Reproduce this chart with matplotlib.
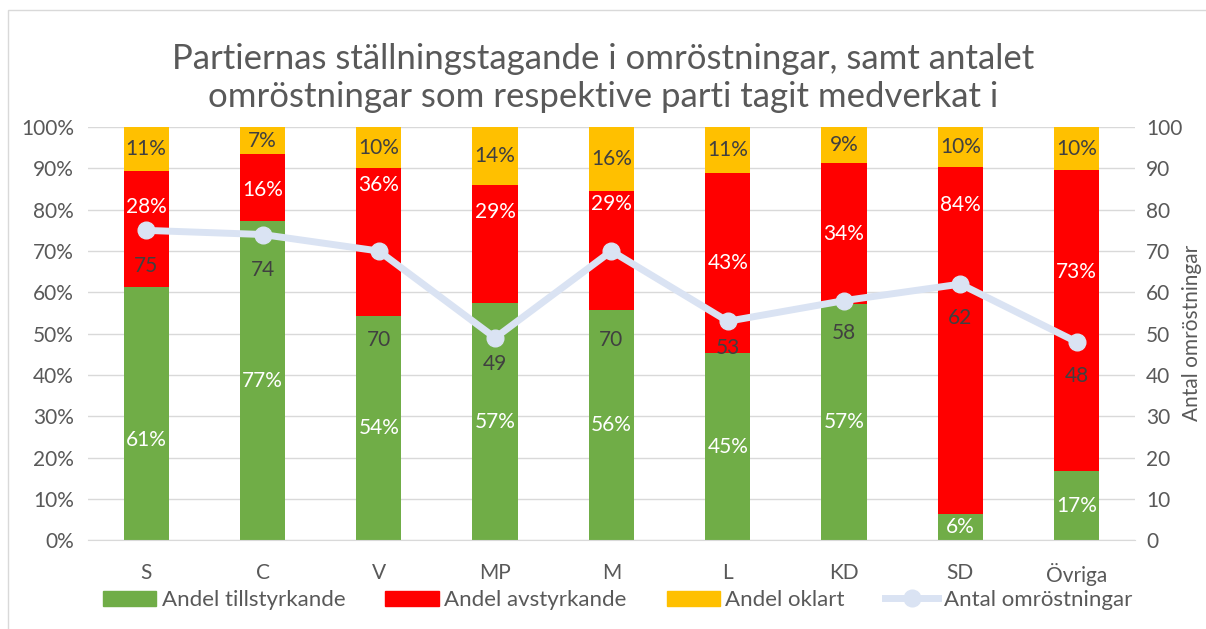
import numpy as np
import matplotlib.pyplot as plt
from matplotlib.lines import Line2D
from matplotlib.patches import Patch, Rectangle
from matplotlib.ticker import PercentFormatter

plt.rcParams['font.family'] = ['Lato', 'DejaVu Sans']

# data
partier = ['S', 'C', 'V', 'MP', 'M', 'L', 'KD', 'SD', 'Övriga']
tillstyrkande = np.array([61.3, 77.2, 54.2, 57.4, 55.7, 45.4, 57.1, 6.4, 16.7])
avstyrkande = np.array([28.0, 16.2, 35.9, 28.6, 28.8, 43.4, 34.3, 83.9, 72.9])
oklart = np.array([10.7, 6.6, 9.9, 14.0, 15.6, 11.2, 8.6, 9.7, 10.4])
antal = np.array([75, 74, 70, 49, 70, 53, 58, 62, 48])

# label placement (moved by hand in the original to dodge the line)
green_lbl_y = [24.2, None, None, None, None, None, None, None, None]
red_lbl_y = [80.6, 84.7, 86.0, 79.4, 81.4, 67.1, 74.1, 81.1, 64.9]
antal_lbl_y = [66.3, 65.4, 48.4, 42.6, 48.4, 46.5, 50.1, 53.8, 39.7]

GREEN = '#70AD47'
RED = '#FF0000'
YELLOW = '#FFC000'
LINE = '#DAE3F3'
DARK = '#404040'
GRID = '#D9D9D9'
TXT = '#595959'
FS = 15

fig = plt.figure(figsize=(12.06, 6.29), dpi=100)
ax = fig.add_axes([0.073, 0.141, 0.868, 0.657])
fig.patches.append(Rectangle((8 / 1206, -0.1), 1.2, (629 - 10) / 629 + 0.1,
                             transform=fig.transFigure, fill=False,
                             edgecolor='#D9D9D9', lw=1))

x = np.arange(len(partier))
w = 0.39
segs = [(tillstyrkande, GREEN, 'white', green_lbl_y),
        (avstyrkande, RED, 'white', red_lbl_y),
        (oklart, YELLOW, DARK, [None] * len(partier))]
bottom = np.zeros(len(partier))
for vals, col, tcol, lbl_y in segs:
    ax.bar(x, vals / 100, w, bottom=bottom / 100, color=col, zorder=2)
    for xi, b, v, ly in zip(x, bottom, vals, lbl_y):
        yy = (b + v / 2) if ly is None else ly
        ax.text(xi, yy / 100, f'{v:.0f}%', ha='center', va='center',
                color=tcol, fontsize=FS, zorder=5)
    bottom += vals

ax.set_xlim(-0.5, len(partier) - 0.5)
ax.set_ylim(0, 1)
ax.set_yticks(np.arange(0, 1.01, 0.1))
ax.yaxis.set_major_formatter(PercentFormatter(1, decimals=0))
ax.grid(axis='y', color=GRID, lw=1, zorder=0)
ax.set_xticks(x)
ax.set_xticklabels(partier)
ax.tick_params(axis='x', length=0, pad=16, labelsize=FS, labelcolor=TXT)
ax.tick_params(axis='y', length=0, pad=10, labelsize=FS, labelcolor=TXT)
for s in ['top', 'right', 'left']:
    ax.spines[s].set_visible(False)
ax.spines['bottom'].set_color(GRID)

ax2 = ax.twinx()
ax2.set_zorder(ax.get_zorder() + 1)
ax2.patch.set_visible(False)
ax2.plot(x, antal, color=LINE, lw=5, marker='o', ms=12, zorder=4)
for xi, n, ly in zip(x, antal, antal_lbl_y):
    ax2.text(xi, ly, str(n), ha='center', va='center', color=DARK, fontsize=FS)
ax2.set_ylim(0, 100)
ax2.set_yticks(np.arange(0, 101, 10))
ax2.tick_params(axis='y', length=0, pad=8, labelsize=FS, labelcolor=TXT)
for s in ax2.spines.values():
    s.set_visible(False)
fig.text(1192 / 1206, 0.47, 'Antal omröstningar', rotation=90, ha='center',
         va='center', fontsize=FS, color=TXT)

fig.text(0.5, 0.876, 'Partiernas ställningstagande i omröstningar, samt antalet\n'
         'omröstningar som respektive parti tagit medverkat i',
         fontsize=25, color=TXT, ha='center', va='center', linespacing=1.25)

handles = [Patch(color=GREEN), Patch(color=RED), Patch(color=YELLOW),
           Line2D([], [], color=LINE, lw=5, marker='o', ms=12)]
labels = ['Andel tillstyrkande', 'Andel avstyrkande', 'Andel oklart', 'Antal omröstningar']
fig.legend(handles, labels, loc='center', bbox_to_anchor=(0.512, 0.046), ncol=4,
           frameon=False, fontsize=FS + 1, labelcolor=TXT, handlelength=2.4,
           handletextpad=0.25, columnspacing=1.8, handleheight=0.7)

fig.savefig('out.png', dpi=100)
